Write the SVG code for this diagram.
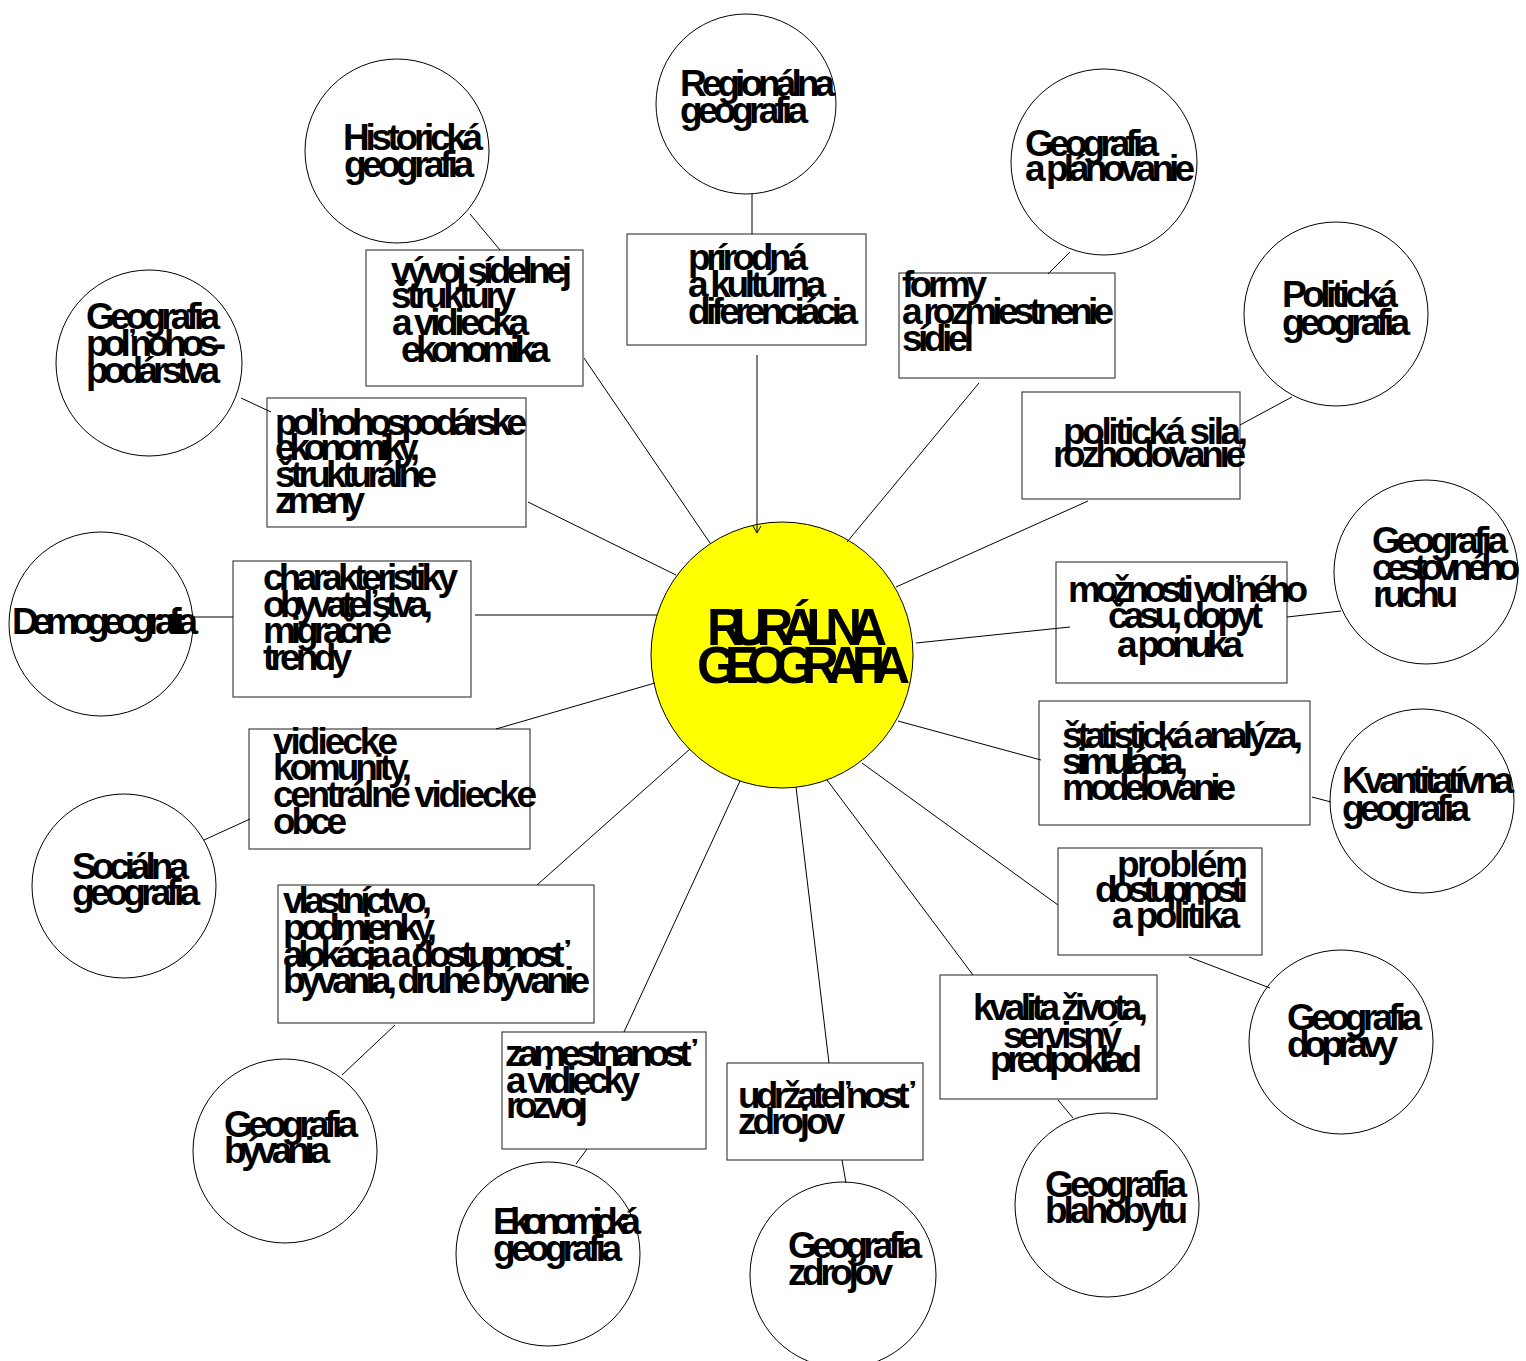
<svg xmlns="http://www.w3.org/2000/svg" width="1526" height="1361" viewBox="0 0 1526 1361">
<style>
  .c { fill: #ffffff; stroke: #000; stroke-width: 1; }
  .core { fill: #ffff00; stroke: #000; stroke-width: 1; }
  .b { fill: none; stroke: #444; stroke-width: 1.2; }
  .t { font-family: "Liberation Sans", Arial, sans-serif; font-weight: bold; font-size: 37px; fill: #000; }
  .tc { font-family: "Liberation Sans", Arial, sans-serif; font-weight: bold; font-size: 51px; fill: #000; }
  .e { stroke: #000; stroke-width: 1; fill: none; }
</style>
<defs>
  <marker id="v" markerWidth="10" markerHeight="10" refX="8" refY="5" orient="auto" markerUnits="userSpaceOnUse">
    <path d="M1,1 L8,5 L1,9" fill="none" stroke="#000" stroke-width="1"/>
  </marker>
</defs>
<rect width="1526" height="1361" fill="#ffffff"/>

<g id="node-rural">
  <ellipse class="core" cx="782" cy="655" rx="131" ry="133"/>
  <text class="tc" x="707" y="645" textLength="180" lengthAdjust="spacing">RURÁLNA</text>
  <text class="tc" x="697" y="683" textLength="213" lengthAdjust="spacing">GEOGRAFIA</text>
</g>

<g id="node-historicka">
  <circle class="c" cx="397" cy="151" r="92"/>
  <text class="t" x="343" y="150" textLength="140" lengthAdjust="spacing">Historická</text>
  <text class="t" x="344" y="177" textLength="130" lengthAdjust="spacing">geografia</text>
</g>
<g id="node-regionalna">
  <circle class="c" cx="746" cy="104" r="90"/>
  <text class="t" x="680" y="96" textLength="155" lengthAdjust="spacing">Regionálna</text>
  <text class="t" x="680" y="123" textLength="128" lengthAdjust="spacing">geografia</text>
</g>
<g id="node-planovanie">
  <circle class="c" cx="1104" cy="162" r="93"/>
  <text class="t" x="1025" y="156" textLength="134" lengthAdjust="spacing">Geografia</text>
  <text class="t" x="1025" y="181" textLength="170" lengthAdjust="spacing">a plánovanie</text>
</g>
<g id="node-politicka">
  <circle class="c" cx="1336" cy="314" r="92"/>
  <text class="t" x="1282" y="307" textLength="116" lengthAdjust="spacing">Politická</text>
  <text class="t" x="1282" y="335" textLength="128" lengthAdjust="spacing">geografia</text>
</g>
<g id="node-cestovneho">
  <circle class="c" cx="1426" cy="572" r="92"/>
  <text class="t" x="1372" y="553" textLength="136" lengthAdjust="spacing">Geografia</text>
  <text class="t" x="1372" y="580" textLength="148" lengthAdjust="spacing">cestovného</text>
  <text class="t" x="1373" y="607" textLength="85" lengthAdjust="spacing">ruchu</text>
</g>
<g id="node-kvantitativna">
  <circle class="c" cx="1422" cy="801" r="92"/>
  <text class="t" x="1342" y="793" textLength="172" lengthAdjust="spacing">Kvantitatívna</text>
  <text class="t" x="1342" y="821" textLength="128" lengthAdjust="spacing">geografia</text>
</g>
<g id="node-dopravy">
  <circle class="c" cx="1341" cy="1042" r="92"/>
  <text class="t" x="1287" y="1030" textLength="135" lengthAdjust="spacing">Geografia</text>
  <text class="t" x="1287" y="1057" textLength="111" lengthAdjust="spacing">dopravy</text>
</g>
<g id="node-blahobytu">
  <circle class="c" cx="1107" cy="1205" r="92"/>
  <text class="t" x="1045" y="1197" textLength="142" lengthAdjust="spacing">Geografia</text>
  <text class="t" x="1045" y="1223" textLength="143" lengthAdjust="spacing">blahobytu</text>
</g>
<g id="node-zdrojov">
  <circle class="c" cx="843" cy="1275" r="93"/>
  <text class="t" x="788" y="1258" textLength="134" lengthAdjust="spacing">Geografia</text>
  <text class="t" x="788" y="1285" textLength="105" lengthAdjust="spacing">zdrojov</text>
</g>
<g id="node-ekonomicka">
  <circle class="c" cx="548" cy="1254" r="92"/>
  <text class="t" x="493" y="1234" textLength="148" lengthAdjust="spacing">Ekonomická</text>
  <text class="t" x="493" y="1261" textLength="129" lengthAdjust="spacing">geografia</text>
</g>
<g id="node-byvania">
  <circle class="c" cx="285" cy="1151" r="92"/>
  <text class="t" x="224" y="1137" textLength="134" lengthAdjust="spacing">Geografia</text>
  <text class="t" x="224" y="1163" textLength="106" lengthAdjust="spacing">bývania</text>
</g>
<g id="node-socialna">
  <circle class="c" cx="124" cy="886" r="92"/>
  <text class="t" x="72" y="879" textLength="117" lengthAdjust="spacing">Sociálna</text>
  <text class="t" x="72" y="905" textLength="128" lengthAdjust="spacing">geografia</text>
</g>
<g id="node-demogeografia">
  <circle class="c" cx="101" cy="624" r="92"/>
  <text class="t" x="12" y="634" textLength="186" lengthAdjust="spacing">Demogeografia</text>
</g>
<g id="node-polnohospodarstva">
  <circle class="c" cx="149" cy="363" r="93"/>
  <text class="t" x="86" y="329" textLength="134" lengthAdjust="spacing">Geografia</text>
  <text class="t" x="86" y="356" textLength="140" lengthAdjust="spacing">poľnohos-</text>
  <text class="t" x="86" y="383" textLength="134" lengthAdjust="spacing">podárstva</text>
</g>

<g id="box-vyvoj">
  <rect class="b" x="366" y="250" width="217" height="136"/>
  <text class="t" x="391" y="283" textLength="181" lengthAdjust="spacing">vývoj sídelnej</text>
  <text class="t" x="391" y="308" textLength="125" lengthAdjust="spacing">štruktúry</text>
  <text class="t" x="392" y="335" textLength="137" lengthAdjust="spacing">a vidiecka</text>
  <text class="t" x="401" y="362" textLength="149" lengthAdjust="spacing">ekonomika</text>
</g>
<g id="box-prirodna">
  <rect class="b" x="627" y="234" width="239" height="111"/>
  <text class="t" x="688" y="270" textLength="120" lengthAdjust="spacing">prírodná</text>
  <text class="t" x="688" y="297" textLength="138" lengthAdjust="spacing">a kultúrna</text>
  <text class="t" x="688" y="324" textLength="170" lengthAdjust="spacing">diferenciácia</text>
</g>
<g id="box-formy">
  <rect class="b" x="899" y="273" width="216" height="105"/>
  <text class="t" x="902" y="297" textLength="85" lengthAdjust="spacing">formy</text>
  <text class="t" x="902" y="324" textLength="212" lengthAdjust="spacing">a rozmiestnenie</text>
  <text class="t" x="902" y="351" textLength="72" lengthAdjust="spacing">sídiel</text>
</g>
<g id="box-politicka-sila">
  <rect class="b" x="1022" y="392" width="218" height="107"/>
  <text class="t" x="1063" y="444" textLength="185" lengthAdjust="spacing">politická sila,</text>
  <text class="t" x="1053" y="467" textLength="193" lengthAdjust="spacing">rozhodovanie</text>
</g>
<g id="box-moznosti">
  <rect class="b" x="1056" y="562" width="231" height="121"/>
  <text class="t" x="1068" y="602" textLength="240" lengthAdjust="spacing">možnosti voľného</text>
  <text class="t" x="1108" y="628" textLength="155" lengthAdjust="spacing">času, dopyt</text>
  <text class="t" x="1117" y="657" textLength="126" lengthAdjust="spacing">a ponuka</text>
</g>
<g id="box-statisticka">
  <rect class="b" x="1039" y="701" width="271" height="124"/>
  <text class="t" x="1062" y="748" textLength="241" lengthAdjust="spacing">štatistická analýza,</text>
  <text class="t" x="1062" y="774" textLength="126" lengthAdjust="spacing">simulácia,</text>
  <text class="t" x="1062" y="800" textLength="174" lengthAdjust="spacing">modelovanie</text>
</g>
<g id="box-problem">
  <rect class="b" x="1058" y="848" width="204" height="107"/>
  <text class="t" x="1117" y="877" textLength="131" lengthAdjust="spacing">problém</text>
  <text class="t" x="1095" y="902" textLength="153" lengthAdjust="spacing">dostupnosti</text>
  <text class="t" x="1112" y="928" textLength="128" lengthAdjust="spacing">a politika</text>
</g>
<g id="box-kvalita">
  <rect class="b" x="940" y="975" width="217" height="124"/>
  <text class="t" x="973" y="1020" textLength="175" lengthAdjust="spacing">kvalita života,</text>
  <text class="t" x="1003" y="1048" textLength="119" lengthAdjust="spacing">servisný</text>
  <text class="t" x="990" y="1072" textLength="152" lengthAdjust="spacing">predpoklad</text>
</g>
<g id="box-udrzatelnost">
  <rect class="b" x="727" y="1063" width="196" height="97"/>
  <text class="t" x="738" y="1108" textLength="177" lengthAdjust="spacing">udržateľnosť</text>
  <text class="t" x="738" y="1134" textLength="107" lengthAdjust="spacing">zdrojov</text>
</g>
<g id="box-zamestnanost">
  <rect class="b" x="502" y="1032" width="204" height="117"/>
  <text class="t" x="505" y="1066" textLength="192" lengthAdjust="spacing">zamestnanosť</text>
  <text class="t" x="506" y="1093" textLength="134" lengthAdjust="spacing">a vidiecky</text>
  <text class="t" x="506" y="1118" textLength="82" lengthAdjust="spacing">rozvoj</text>
</g>
<g id="box-vlastnictvo">
  <rect class="b" x="278" y="885" width="316" height="138"/>
  <text class="t" x="283" y="913" textLength="149" lengthAdjust="spacing">vlastníctvo,</text>
  <text class="t" x="283" y="940" textLength="154" lengthAdjust="spacing">podmienky,</text>
  <text class="t" x="283" y="967" textLength="287" lengthAdjust="spacing">alokácia a dostupnosť</text>
  <text class="t" x="283" y="993" textLength="307" lengthAdjust="spacing">bývania, druhé bývanie</text>
</g>
<g id="box-vidiecke">
  <rect class="b" x="249" y="729" width="281" height="120"/>
  <text class="t" x="273" y="754" textLength="125" lengthAdjust="spacing">vidiecke</text>
  <text class="t" x="273" y="780" textLength="139" lengthAdjust="spacing">komunity,</text>
  <text class="t" x="273" y="807" textLength="264" lengthAdjust="spacing">centrálne vidiecke</text>
  <text class="t" x="273" y="834" textLength="74" lengthAdjust="spacing">obce</text>
</g>
<g id="box-charakteristiky">
  <rect class="b" x="233" y="561" width="238" height="136"/>
  <text class="t" x="263" y="590" textLength="195" lengthAdjust="spacing">charakteristiky</text>
  <text class="t" x="263" y="617" textLength="170" lengthAdjust="spacing">obyvateľstva,</text>
  <text class="t" x="263" y="643" textLength="129" lengthAdjust="spacing">migračné</text>
  <text class="t" x="263" y="670" textLength="89" lengthAdjust="spacing">trendy</text>
</g>
<g id="box-polnohospodarske">
  <rect class="b" x="267" y="398" width="259" height="129"/>
  <text class="t" x="275" y="435" textLength="252" lengthAdjust="spacing">poľnohospodárske</text>
  <text class="t" x="275" y="460" textLength="145" lengthAdjust="spacing">ekonomiky,</text>
  <text class="t" x="275" y="487" textLength="162" lengthAdjust="spacing">štrukturálne</text>
  <text class="t" x="275" y="513" textLength="90" lengthAdjust="spacing">zmeny</text>
</g>

<g id="connectors" class="e">
  <line x1="470" y1="214" x2="500" y2="250"/>
  <line x1="584" y1="358" x2="710" y2="543"/>
  <line x1="752" y1="194" x2="752" y2="234"/>
  <line x1="757" y1="355" x2="757" y2="533" marker-end="url(#v)"/>
  <line x1="1070" y1="252" x2="1048" y2="274"/>
  <line x1="979" y1="383" x2="847" y2="542"/>
  <line x1="1292" y1="397" x2="1240" y2="425"/>
  <line x1="1088" y1="501" x2="896" y2="587"/>
  <line x1="1341" y1="611" x2="1287" y2="617"/>
  <line x1="1070" y1="627" x2="916" y2="643"/>
  <line x1="1331" y1="802" x2="1312" y2="797"/>
  <line x1="1041" y1="760" x2="898" y2="721"/>
  <line x1="1270" y1="988" x2="1189" y2="957"/>
  <line x1="1058" y1="905" x2="862" y2="763"/>
  <line x1="1073" y1="1118" x2="1058" y2="1100"/>
  <line x1="973" y1="975" x2="827" y2="780"/>
  <line x1="846" y1="1183" x2="842" y2="1160"/>
  <line x1="829" y1="1063" x2="796" y2="787"/>
  <line x1="576" y1="1164" x2="587" y2="1149"/>
  <line x1="624" y1="1032" x2="740" y2="781"/>
  <line x1="342" y1="1075" x2="395" y2="1025"/>
  <line x1="537" y1="885" x2="690" y2="749"/>
  <line x1="204" y1="840" x2="250" y2="819"/>
  <line x1="496" y1="729" x2="655" y2="683"/>
  <line x1="193" y1="617" x2="233" y2="617"/>
  <line x1="475" y1="615" x2="657" y2="615"/>
  <line x1="241" y1="398" x2="271" y2="412"/>
  <line x1="528" y1="502" x2="676" y2="575"/>
</g>
</svg>
